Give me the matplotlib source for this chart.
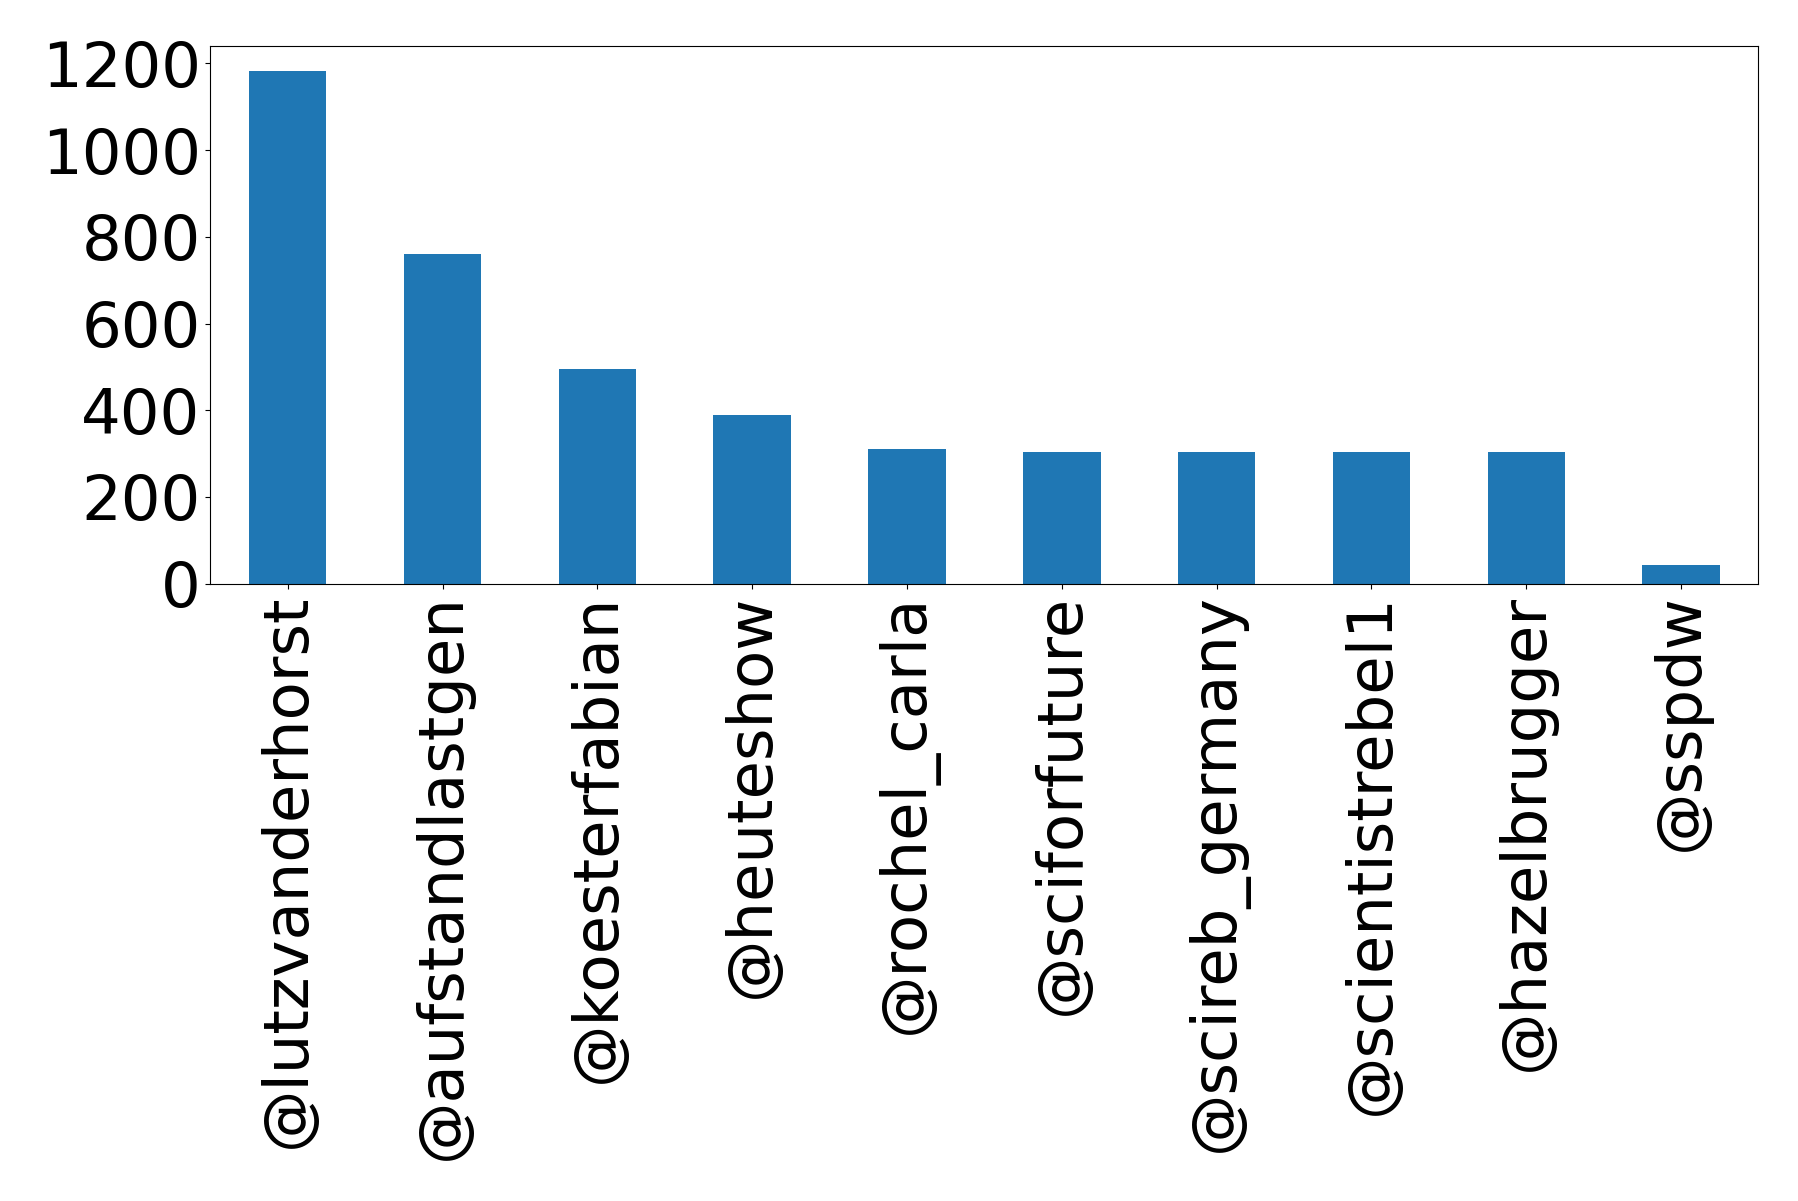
import pandas as pd
import matplotlib
matplotlib.use("Agg")
import matplotlib.pyplot as plt

# comptes les plus mentionnés
accounts = ["@lutzvanderhorst", "@aufstandlastgen", "@koesterfabian", "@heuteshow",
            "@rochel_carla", "@sciforfuture", "@scireb_germany", "@scientistrebel1",
            "@hazelbrugger", "@sspdw"]
counts = [1182, 761, 496, 389, 311, 304, 304, 304, 304, 42]

s = pd.Series(counts, index=accounts)

fig = plt.figure(figsize=(17.98, 12.01), dpi=100)
ax = fig.add_axes([0.117, 0.514, 0.861, 0.448])
s.plot(kind="bar", ax=ax, color="#1f77b4")
ax.tick_params(axis="both", labelsize=45)
plt.xticks(rotation=90)
ax.set_yticks([0, 200, 400, 600, 800, 1000, 1200])

fig.savefig("out.png", dpi=100)
